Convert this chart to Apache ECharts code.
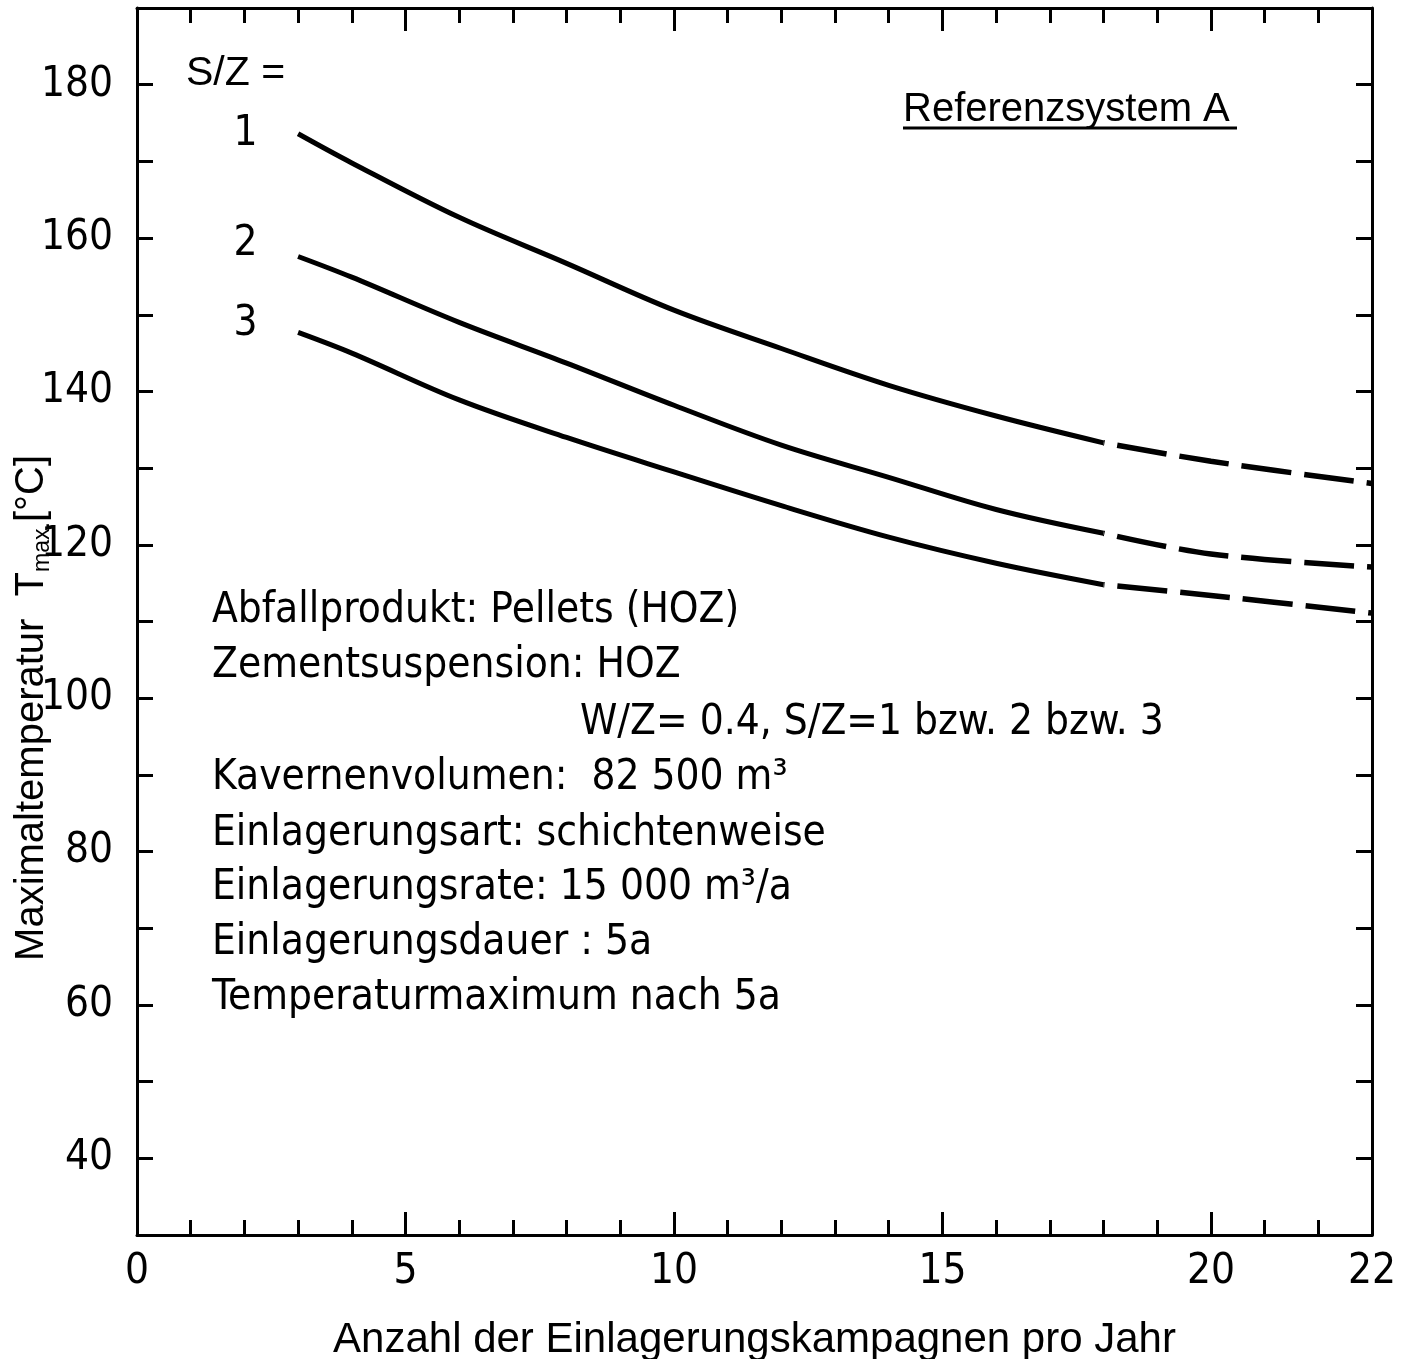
<!DOCTYPE html>
<html>
<head>
<meta charset="utf-8">
<title>Maximaltemperatur</title>
<script src="https://cdn.jsdelivr.net/npm/echarts@6/dist/echarts.min.js"></script>
<style>html,body{margin:0;padding:0;background:#fff}</style>
</head>
<body>
<div id="main" style="width:1407px;height:1359px;"></div>
<script type="text/javascript">
// Anzahl der Einlagerungskampagnen pro Jahr (x) -> Tmax in °C (y)
var xSolid = [3, 4, 6, 8, 10, 12, 14, 16, 18];
var xDashed = [18, 20, 23];

var sz1Solid = [173.6, 169.8, 162.7, 156.7, 150.6, 145.6, 140.8, 136.8, 133.3];
var sz1Dashed = [133.3, 130.9, 128.0];
var sz2Solid = [157.6, 154.9, 149.0, 143.7, 138.2, 133.0, 128.8, 124.6, 121.5];
var sz2Dashed = [121.5, 118.8, 117.1];
var sz3Solid = [147.7, 145.0, 138.9, 134.0, 129.5, 125.1, 121.0, 117.6, 114.8];
var sz3Dashed = [114.8, 113.4, 111.1];

var curveNames = ['1', '2', '3'];
var xLabels = {0: '0', 5: '5', 10: '10', 15: '15', 20: '20', 23: '22'};

var infoLines = [
    'Abfallprodukt: Pellets (HOZ)',
    'Zementsuspension: HOZ',
    'W/Z= 0.4, S/Z=1 bzw. 2 bzw. 3',
    'Kavernenvolumen:  82 500 m³',
    'Einlagerungsart: schichtenweise',
    'Einlagerungsrate: 15 000 m³/a',
    'Einlagerungsdauer : 5a',
    'Temperaturmaximum nach 5a'
];

var NARROW = "'Liberation Sans Narrow', 'DejaVu Sans Condensed', 'Liberation Sans', sans-serif";
var SANS = "'Liberation Sans', 'DejaVu Sans', sans-serif";

function pairs(xs, ys) {
    return xs.map(function (x, i) { return [x, ys[i]]; });
}

var labelOffsets = [[0, 0], [0, -12], [0, -8]];

function solidSeries(idx, ys) {
    var data = pairs(xSolid, ys);
    data[0] = {
        value: data[0],
        label: {
            show: true, position: 'left', distance: 40, offset: labelOffsets[idx],
            formatter: curveNames[idx], fontFamily: NARROW, fontSize: 42, color: '#000'
        }
    };
    return {
        name: 'S/Z=' + curveNames[idx], type: 'line', smooth: 0.35,
        symbol: 'circle', symbolSize: 1, showSymbol: true, showAllSymbol: true,
        itemStyle: {color: 'rgba(0,0,0,0)'},
        lineStyle: {color: '#000', width: 5}, data: data, z: 3
    };
}

function dashedSeries(idx, ys) {
    return {
        name: 'S/Z=' + curveNames[idx] + ' (extrapoliert)', type: 'line', smooth: 0.35,
        symbol: 'none',
        lineStyle: {color: '#000', width: 5.5, type: [50, 13], dashOffset: -14}, data: pairs(xDashed, ys), z: 3
    };
}

var myChart = echarts.init(document.getElementById('main'));

var baseX = {type: 'value', min: 0, max: 23, splitLine: {show: false}};
var baseY = {type: 'value', min: 30, max: 190, interval: 10, splitLine: {show: false}};

var option = {
    backgroundColor: '#fff',
    animation: false,
    grid: {left: 137, right: 35, top: 8, bottom: 124, outerBoundsMode: 'none', containLabel: false},
    xAxis: [
        Object.assign({}, baseX, {
            position: 'bottom', interval: 5,
            axisLine: {onZero: false, lineStyle: {color: '#000', width: 3}},
            axisTick: {inside: true, length: 23, lineStyle: {color: '#000', width: 3}},
            axisLabel: {
                margin: 16, color: '#000', fontFamily: NARROW, fontSize: 42,
                showMaxLabel: true,
                formatter: function (v) { return xLabels[v] !== undefined ? xLabels[v] : ''; }
            },
            name: 'Anzahl der Einlagerungskampagnen pro Jahr',
            nameLocation: 'middle', nameGap: 84,
            nameTextStyle: {color: '#000', fontFamily: SANS, fontSize: 42}
        }),
        Object.assign({}, baseX, {
            position: 'bottom', interval: 1,
            axisLine: {show: false, onZero: false},
            axisTick: {inside: true, length: 15, lineStyle: {color: '#000', width: 3}},
            axisLabel: {show: false}
        }),
        Object.assign({}, baseX, {
            position: 'top', interval: 5,
            axisLine: {onZero: false, lineStyle: {color: '#000', width: 3}},
            axisTick: {inside: true, length: 23, lineStyle: {color: '#000', width: 3}},
            axisLabel: {show: false}
        }),
        Object.assign({}, baseX, {
            position: 'top', interval: 1,
            axisLine: {show: false, onZero: false},
            axisTick: {inside: true, length: 15, lineStyle: {color: '#000', width: 3}},
            axisLabel: {show: false}
        })
    ],
    yAxis: [
        Object.assign({}, baseY, {
            position: 'left',
            axisLine: {onZero: false, lineStyle: {color: '#000', width: 3}},
            axisTick: {inside: true, length: 16, lineStyle: {color: '#000', width: 3}},
            axisLabel: {
                margin: 24, color: '#000', fontFamily: NARROW, fontSize: 42,
                formatter: function (v) { return (v % 20 === 0) ? String(v) : ''; }
            }
        }),
        Object.assign({}, baseY, {
            position: 'right',
            axisLine: {onZero: false, lineStyle: {color: '#000', width: 3}},
            axisTick: {inside: true, length: 16, lineStyle: {color: '#000', width: 3}},
            axisLabel: {show: false}
        })
    ],
    graphic: [
        {
            type: 'text', left: 12, top: 455, rotation: Math.PI / 2,
            style: {
                text: '{a|Maximaltemperatur  T}{s|max.}{a|[°C]}',
                rich: {
                    a: {fontFamily: SANS, fontSize: 40, fill: '#000'},
                    s: {fontFamily: SANS, fontSize: 23, fill: '#000', padding: [22, 0, 0, 0]}
                }
            }
        },
        {
            type: 'text', left: 186, top: 53,
            style: {text: 'S/Z =', fontFamily: SANS, fontSize: 41, fill: '#000'}
        },
        {
            type: 'text', left: 903, top: 90,
            style: {text: 'Referenzsystem A', fontFamily: SANS, fontSize: 40, fill: '#000'}
        },
        {
            type: 'line', shape: {x1: 903, y1: 128, x2: 1237, y2: 128},
            style: {stroke: '#000', lineWidth: 3}
        }
    ],
    series: [
        solidSeries(0, sz1Solid), dashedSeries(0, sz1Dashed),
        solidSeries(1, sz2Solid), dashedSeries(1, sz2Dashed),
        solidSeries(2, sz3Solid), dashedSeries(2, sz3Dashed)
    ]
};

var infoY = [610, 665, 722, 777, 833, 887, 942, 997];
infoLines.forEach(function (line, i) {
    option.graphic.push({
        type: 'text', left: i === 2 ? 580 : 212, top: infoY[i] - 20,
        style: {text: line, fontFamily: NARROW, fontSize: 42, fill: '#000'}
    });
});

myChart.setOption(option);
</script>
</body>
</html>
